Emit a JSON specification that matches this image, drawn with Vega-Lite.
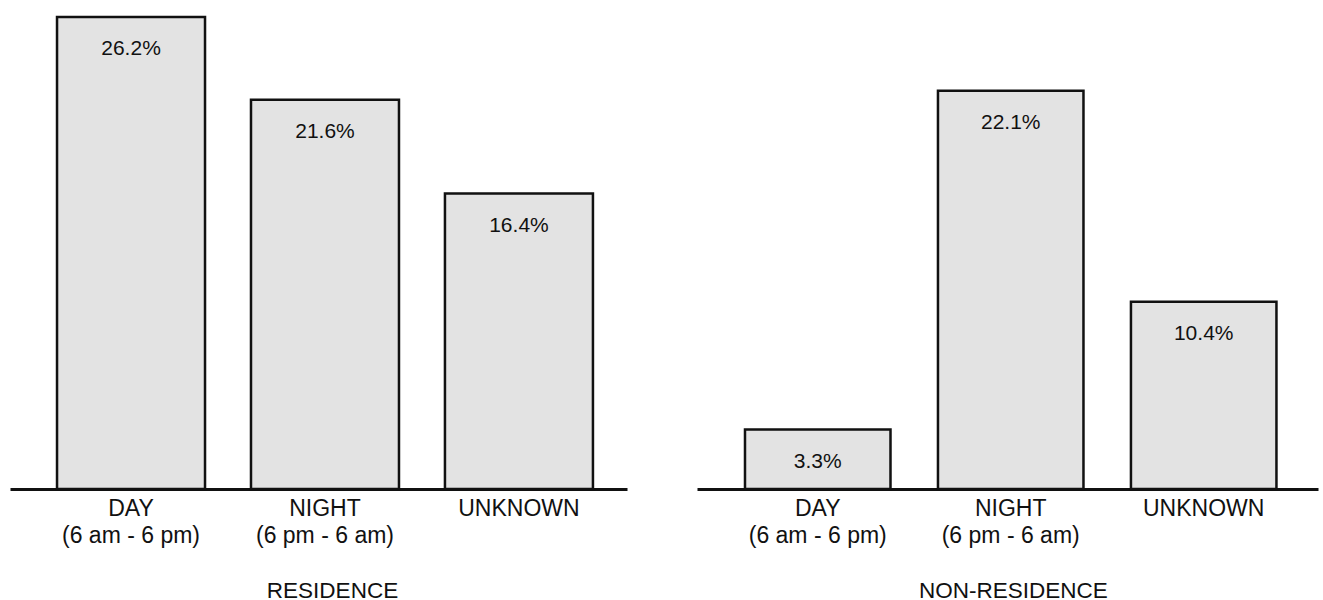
{
  "$schema": "https://vega.github.io/schema/vega-lite/v6.json",
  "padding": {"left": 10, "top": 15, "right": 5, "bottom": 0},
  "background": "white",
  "config": {
    "view": {"stroke": null},
    "font": "Liberation Sans",
    "axis": {
      "domainColor": "#111111",
      "domainWidth": 3,
      "ticks": false,
      "tickSize": 0,
      "grid": false,
      "labelFont": "Liberation Sans",
      "labelFontSize": 23,
      "labelColor": "#111111",
      "labelLineHeight": 27,
      "labelPadding": 8,
      "labelAngle": 0,
      "titleFont": "Liberation Sans",
      "titleFontSize": 22.5,
      "titleFontWeight": "normal",
      "titleColor": "#111111",
      "titleBaseline": "middle",
      "titleAlign": "center"
    }
  },
  "datasets": {
    "bars": [
      {"location": "RESIDENCE", "period": "DAY|(6 am - 6 pm)", "value": 26.2, "text": "26.2%"},
      {"location": "RESIDENCE", "period": "NIGHT|(6 pm - 6 am)", "value": 21.6, "text": "21.6%"},
      {"location": "RESIDENCE", "period": "UNKNOWN", "value": 16.4, "text": "16.4%"},
      {"location": "NON-RESIDENCE", "period": "DAY|(6 am - 6 pm)", "value": 3.3, "text": "3.3%"},
      {"location": "NON-RESIDENCE", "period": "NIGHT|(6 pm - 6 am)", "value": 22.1, "text": "22.1%"},
      {"location": "NON-RESIDENCE", "period": "UNKNOWN", "value": 10.4, "text": "10.4%"}
    ]
  },
  "spacing": 70,
  "resolve": {"scale": {"x": "independent", "y": "independent"}},
  "hconcat": [
    {
      "width": 617,
      "height": 472,
      "data": {"name": "bars"},
      "transform": [{"filter": "datum.location === 'RESIDENCE'"}],
      "encoding": {
        "x": {
          "field": "period",
          "type": "nominal",
          "sort": ["DAY|(6 am - 6 pm)", "NIGHT|(6 pm - 6 am)", "UNKNOWN"],
          "scale": {"paddingInner": 0.237, "paddingOuter": 0.209, "align": 0.58},
          "axis": {
            "labelExpr": "split(datum.label, '|')",
            "title": "RESIDENCE",
            "titleX": 322,
            "titleY": 101
          }
        },
        "y": {
          "field": "value",
          "type": "quantitative",
          "scale": {"domain": [0, 26.2], "nice": false, "zero": true},
          "axis": null
        }
      },
      "layer": [
        {"mark": {"type": "bar", "fill": "#e3e3e3", "stroke": "#111111", "strokeWidth": 2.5}},
        {
          "mark": {"type": "text", "dy": 32, "baseline": "middle", "fontSize": 21, "color": "#111111"},
          "encoding": {"text": {"field": "text"}}
        }
      ]
    },
    {
      "width": 621,
      "height": 472,
      "data": {"name": "bars"},
      "transform": [{"filter": "datum.location === 'NON-RESIDENCE'"}],
      "encoding": {
        "x": {
          "field": "period",
          "type": "nominal",
          "sort": ["DAY|(6 am - 6 pm)", "NIGHT|(6 pm - 6 am)", "UNKNOWN"],
          "scale": {"paddingInner": 0.246, "paddingOuter": 0.232, "align": 0.536},
          "axis": {
            "labelExpr": "split(datum.label, '|')",
            "title": "NON-RESIDENCE",
            "titleX": 316,
            "titleY": 101
          }
        },
        "y": {
          "field": "value",
          "type": "quantitative",
          "scale": {"domain": [0, 26.2], "nice": false, "zero": true},
          "axis": null
        }
      },
      "layer": [
        {"mark": {"type": "bar", "fill": "#e3e3e3", "stroke": "#111111", "strokeWidth": 2.5}},
        {
          "mark": {"type": "text", "dy": 32, "baseline": "middle", "fontSize": 21, "color": "#111111"},
          "encoding": {"text": {"field": "text"}}
        }
      ]
    }
  ]
}
